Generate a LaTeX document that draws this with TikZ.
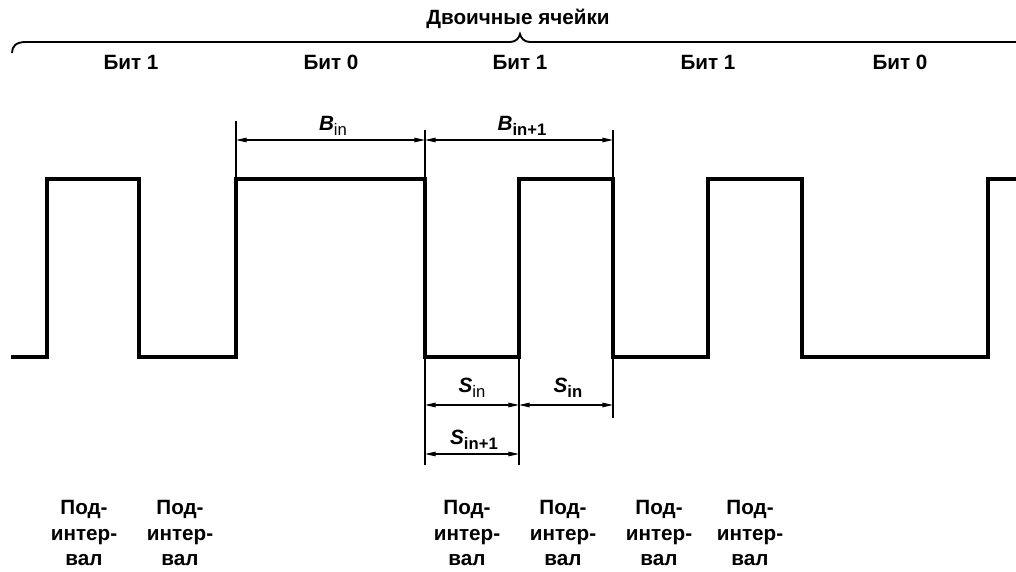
\documentclass[tikz,border=0pt]{standalone}
\usepackage{fontspec}
\setmainfont{Liberation Sans}
\usetikzlibrary{arrows.meta}

\tikzset{every picture/.style={line width=0.9pt}}
\tikzset{
  signal/.style={line width=2.6pt},
  dimline/.style={{Triangle[length=8pt,width=3.4pt]}-{Triangle[length=8pt,width=3.4pt]}},
  lbl/.style={inner sep=0pt, font=\fontsize{15.5}{19}\selectfont\bfseries},
  sublbl/.style={lbl, align=center},
}
\newcommand{\dimlab}[2]{{\itshape #1}\raisebox{-4pt}{\fontsize{12.5}{14}\selectfont #2}}

\begin{document}
\begin{tikzpicture}[x=0.75pt,y=0.75pt,yscale=-1,xscale=1]
\useasboundingbox (0,0) rectangle (1016,571);

%Coordinates of the dimension lines
\coordinate (bA) at (236,140);
\coordinate (bB) at (425,140);
\coordinate (bC) at (613,140);
\coordinate (sA) at (425,405);
\coordinate (sB) at (519,405);
\coordinate (sC) at (613,405);
\coordinate (tA) at (425,454);
\coordinate (tB) at (519,454);

%Curve Lines (brace)
\draw [line width=1.4pt]   (12,53) .. controls (12,46) and (16,42) .. (26,42) -- (510,42) .. controls (516,42) and (519,38) .. (520,34) .. controls (521,38) and (524,42) .. (530,42) -- (1016,42) ;

%Straight Lines (signal)
\draw [signal]   (11,357) -- (47,357) -- (47,179) -- (139,179) -- (139,357) -- (236,357) -- (236,179) -- (425,179) -- (425,357) -- (519,357) -- (519,179) -- (613,179) -- (613,357) -- (708,357) -- (708,179) -- (802,179) -- (802,357) -- (988,357) -- (988,179) -- (1016,179) ;

%Straight Lines (extension lines)
\draw    (236,121) -- (236,179) ;
\draw    (425,130) -- (425,179) ;
\draw    (613,130) -- (613,179) ;
\draw    (425,357) -- (425,465) ;
\draw    (519,357) -- (519,465) ;
\draw    (613,357) -- (613,418) ;

%Straight Lines (dimensions)
\draw [dimline]   (bA) -- (bB) ;
\draw [dimline]   (bB) -- (bC) ;
\draw [dimline]   (sA) -- (sB) ;
\draw [dimline]   (sB) -- (sC) ;
\draw [dimline]   (tA) -- (tB) ;

% Text Node
\node [lbl] (title) at (518,19) {Двоичные ячейки};
% Text Node
\node [lbl] (bit1a) at (131,62) {Бит 1};
% Text Node
\node [lbl] (bit0a) at (331,62) {Бит 0};
% Text Node
\node [lbl] (bit1b) at (520,62) {Бит 1};
% Text Node
\node [lbl] (bit1c) at (708,62) {Бит 1};
% Text Node
\node [lbl] (bit0b) at (900,62) {Бит 0};

% Text Node
\node [lbl] (lbin) at (333,126) {\dimlab{B}{\mdseries in}};
% Text Node
\node [lbl] (lbinn) at (522,126) {\dimlab{B}{in+1}};
% Text Node
\node [lbl] (lsin) at (472,388) {\dimlab{S}{\mdseries in}};
% Text Node
\node [lbl] (lsinb) at (568,388) {\dimlab{S}{in}};
% Text Node
\node [lbl] (lsinn) at (474,440) {\dimlab{S}{in+1}};

% Text Node
\node [sublbl] (sub1) at (84,533) {Под-\\интер-\\вал};
% Text Node
\node [sublbl] (sub2) at (180,533) {Под-\\интер-\\вал};
% Text Node
\node [sublbl] (sub3) at (467,533) {Под-\\интер-\\вал};
% Text Node
\node [sublbl] (sub4) at (563,533) {Под-\\интер-\\вал};
% Text Node
\node [sublbl] (sub5) at (659,533) {Под-\\интер-\\вал};
% Text Node
\node [sublbl] (sub6) at (750,533) {Под-\\интер-\\вал};

\end{tikzpicture}
\end{document}
